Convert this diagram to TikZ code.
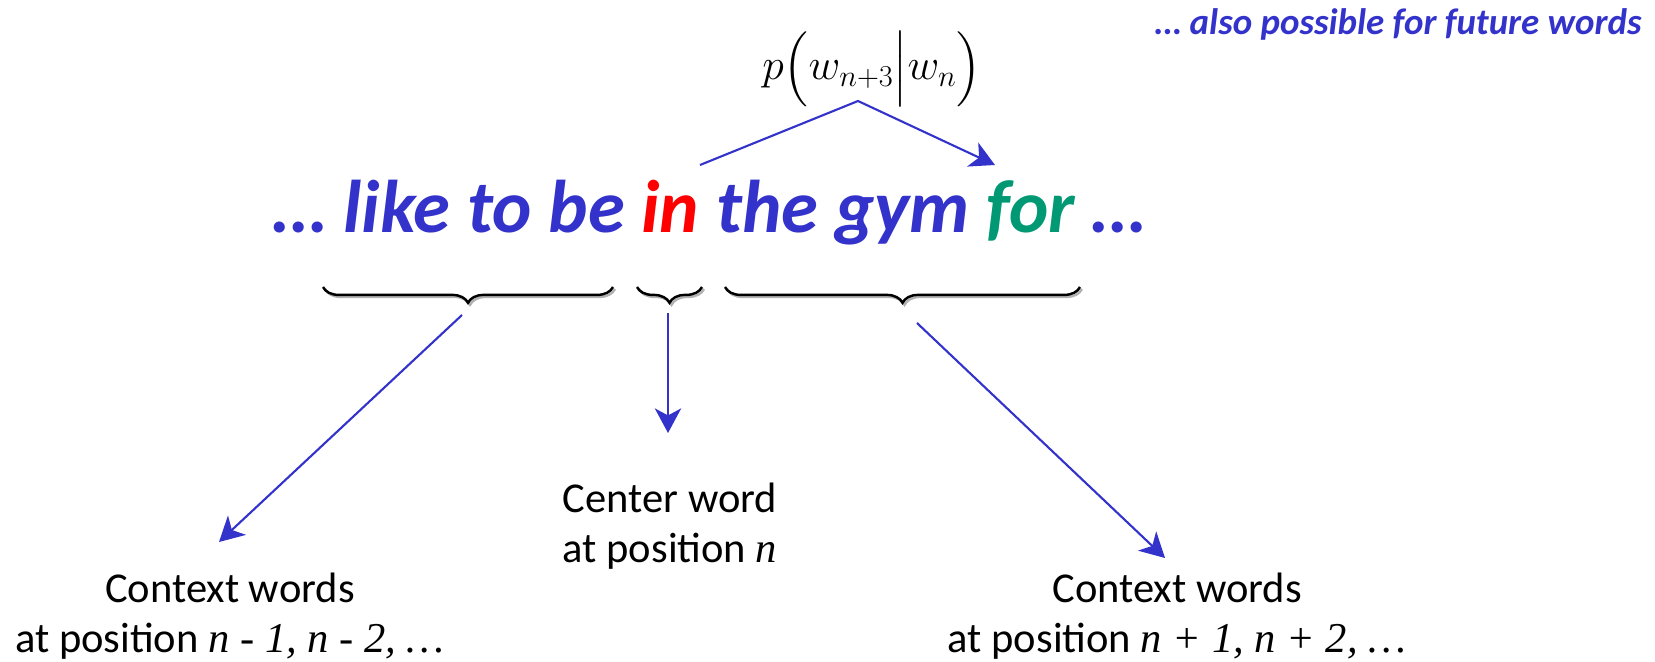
\documentclass[tikz,border=0pt]{standalone}
\usepackage{amsmath, amssymb}
\usepackage{fontspec}
\setmainfont{Carlito}
\newfontfamily\tmsfont{Liberation Serif}
\usepackage{tikz}
\usetikzlibrary{arrows.meta, positioning, calc, decorations.pathreplacing}
\definecolor{wordblue}{RGB}{51,51,204}
\definecolor{wordred}{RGB}{255,0,0}
\definecolor{wordgreen}{RGB}{0,153,115}

\begin{document}
\begin{tikzpicture}[x=0.02cm, y=-0.02cm,
    link/.style={draw=wordblue, line width=1.2pt, -{Stealth[length=14pt, width=15pt, inset=4pt]}},
    bracket/.style={decorate, decoration={brace, amplitude=9pt}, line width=1.4pt},
    label/.style={inner sep=0pt, align=center, anchor=base, font=\fontsize{24.2}{28.3}\selectfont}]
    \useasboundingbox (0,0) rectangle (1655,662);

    % Sentence
    \node[inner sep=0pt, anchor=base west, text=wordblue, font=\fontsize{42.5}{50}\selectfont\bfseries\itshape]
        (sentence) at (273,233) {\dots{} like to be \textcolor{wordred}{in} the gym \textcolor{wordgreen}{for} \dots};
    \node[inner sep=0pt, anchor=base east, text=wordblue, font=\fontsize{21}{25}\selectfont\bfseries\itshape]
        (future) at (1642,35) {\dots{} also possible for future words};
    \node[inner sep=0pt, anchor=base, font=\fontsize{23.7}{28}\selectfont]
        (prob) at (872,80) {$p\Big(w_{n+3}\Big|w_n\Big)$};

    % Top arrow
    \coordinate (inright) at (700,165);
    \coordinate (apex) at (858,101);
    \coordinate (fortop) at (995,165);
    \draw[link] (inright) -- (apex) -- (fortop);

    % Braces (with a soft shadow)
    \foreach \xa/\xb/\nm in {613/323/lbrace, 702/637/cbrace, 1080/725/rbrace} {
        \draw[bracket, black!30] (\xa+2,289) -- (\xb+2,289);
        \draw[bracket] (\xa,287) -- (\xb,287) coordinate[pos=0.5] (\nm);
    }

    % Labels
    \node[label] (leftctx) at (230,652) {Context words\\at position {\tmsfont\itshape n - 1, n - 2, \dots}};
    \node[label] (center) at (670,562) {Center word\\at position {\tmsfont\itshape n}};
    \node[label] (rightctx) at (1177,652) {Context words\\at position {\tmsfont\itshape n + 1, n + 2, \dots}};

    % Arrows
    \coordinate (lstart) at (462,315);
    \coordinate (lend) at (219,542);
    \coordinate (cstart) at (668,313);
    \coordinate (cend) at (668,433);
    \coordinate (rstart) at (917,323);
    \coordinate (rend) at (1165,558);
    \draw[link] (lstart) -- (lend);
    \draw[link] (cstart) -- (cend);
    \draw[link] (rstart) -- (rend);
\end{tikzpicture}
\end{document}
